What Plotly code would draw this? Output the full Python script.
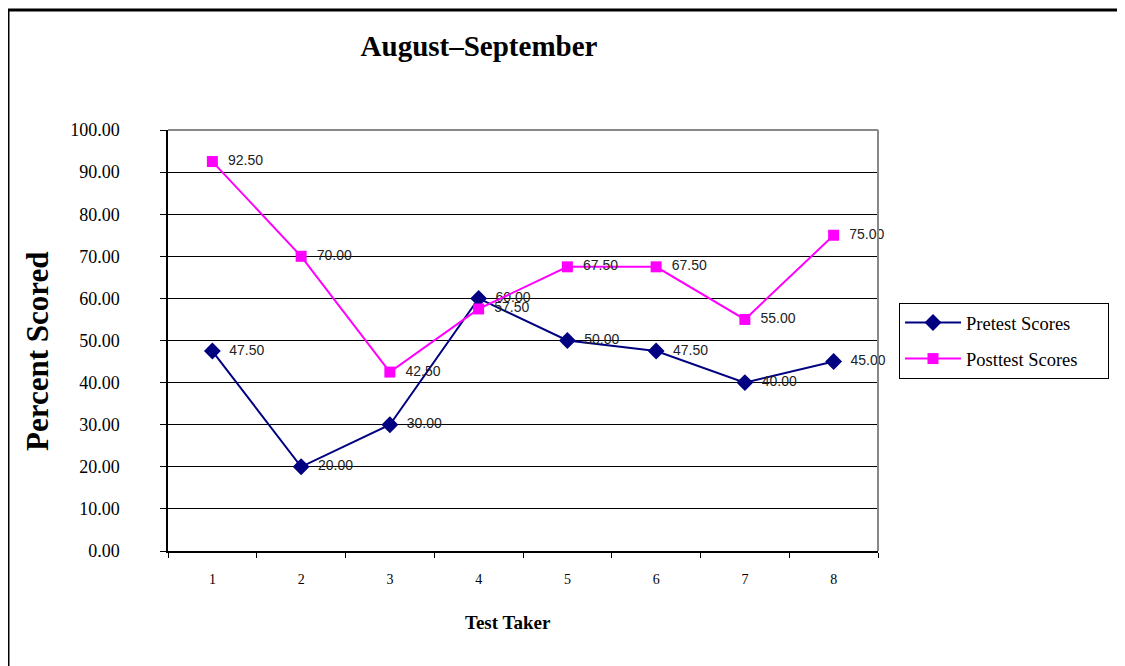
import plotly.graph_objects as go

takers = ["1", "2", "3", "4", "5", "6", "7", "8"]
pretest = [47.50, 20.00, 30.00, 60.00, 50.00, 47.50, 40.00, 45.00]
posttest = [92.50, 70.00, 42.50, 57.50, 67.50, 67.50, 55.00, 75.00]
y_ticks = [0, 10, 20, 30, 40, 50, 60, 70, 80, 90, 100]

W, H = 1125, 666
OFF = 8  # page body margin
L, R, T, B = 168 - OFF, 878 - OFF, 130 - OFF, 551 - OFF

def px(x):
    return (x - OFF - L) / (R - L)

def py(y):
    return (B - (y - OFF)) / (B - T)

serif = "Liberation Serif, Times New Roman, serif"
sans = "Liberation Sans, Arial, sans-serif"
NB = "\u00a0"

fig = go.Figure()
fig.add_trace(go.Scatter(
    x=takers, y=pretest, name="Pretest Scores" + NB * 7, mode="lines+markers+text",
    line=dict(color="#000080", width=2),
    marker=dict(symbol="diamond", size=13, color="#000080", line=dict(width=0)),
    text=[NB * 2 + f"{v:.2f}" for v in pretest], textposition="middle right",
    textfont=dict(family=sans, size=14, color="#222222"),
    legendgroup="a", cliponaxis=False,
))
fig.add_trace(go.Scatter(
    x=takers, y=posttest, name="Posttest Scores", mode="lines+markers+text",
    line=dict(color="#FF00FF", width=2),
    marker=dict(symbol="square", size=11, color="#FF00FF", line=dict(width=0)),
    text=[NB * 2 + f"{v:.2f}" for v in posttest], textposition="middle right",
    textfont=dict(family=sans, size=14, color="#222222"),
    legendgroup="b", cliponaxis=False,
))

fig.update_layout(
    width=W, height=H,
    margin=dict(l=L, r=W - R, t=T, b=H - B, pad=0),
    paper_bgcolor="white", plot_bgcolor="white",
    title=dict(text="<b>August\u2013September</b>", x=(479 - OFF) / W, xref="container",
               xanchor="center", y=1 - (46 - OFF) / H, yanchor="middle",
               font=dict(family=serif, size=29, color="black")),
    legend=dict(x=px(899), y=py(303), xanchor="left", yanchor="top",
                bordercolor="black", borderwidth=1, bgcolor="white",
                font=dict(family=serif, size=18.5, color="black"),
                tracegroupgap=9, itemwidth=56),
    showlegend=True,
)

fig.update_xaxes(
    type="category", range=[-0.5, 7.5], tickson="boundaries",
    ticks="outside", ticklen=5, tickcolor="black", tickwidth=1,
    showline=True, linecolor="black", linewidth=1.5,
    showgrid=False, zeroline=False,
    tickfont=dict(family=serif, size=14, color="black"),
    ticklabelstandoff=14,
)
fig.update_yaxes(
    range=[0, 100], tickvals=y_ticks, tickformat=".2f",
    ticks="outside", ticklen=6, tickcolor="black", tickwidth=1,
    showline=True, linecolor="black", linewidth=1.5,
    showgrid=True, gridcolor="black", gridwidth=1, zeroline=False,
    tickfont=dict(family=serif, size=18, color="black"),
    ticklabelstandoff=37,
)

# axis titles placed as in the reference
fig.add_annotation(text="<b>Test Taker</b>", xref="paper", yref="paper",
                   x=px(508), y=py(622), xanchor="center", yanchor="middle", showarrow=False,
                   font=dict(family=serif, size=19, color="black"))
fig.add_annotation(text="<b>Percent Scored</b>", xref="paper", yref="paper",
                   x=px(37), y=py(352), xanchor="center", yanchor="middle", showarrow=False,
                   textangle=-90, font=dict(family=serif, size=31, color="black"))

# plot-area top/right edges (gray)
fig.add_shape(type="line", xref="paper", yref="paper", x0=0, x1=1, y0=1, y1=1,
              line=dict(color="#888888", width=2), layer="above")
fig.add_shape(type="line", xref="paper", yref="paper", x0=1, x1=1, y0=0, y1=1,
              line=dict(color="#888888", width=2), layer="above")
# outer chart border (left and top)
fig.add_shape(type="line", xref="paper", yref="paper", x0=px(8), x1=px(8), y0=py(10), y1=py(700),
              line=dict(color="black", width=3), layer="above")
fig.add_shape(type="line", xref="paper", yref="paper", x0=px(7), x1=px(1140), y0=py(10), y1=py(10),
              line=dict(color="black", width=3), layer="above")

fig.write_html("out.html")
